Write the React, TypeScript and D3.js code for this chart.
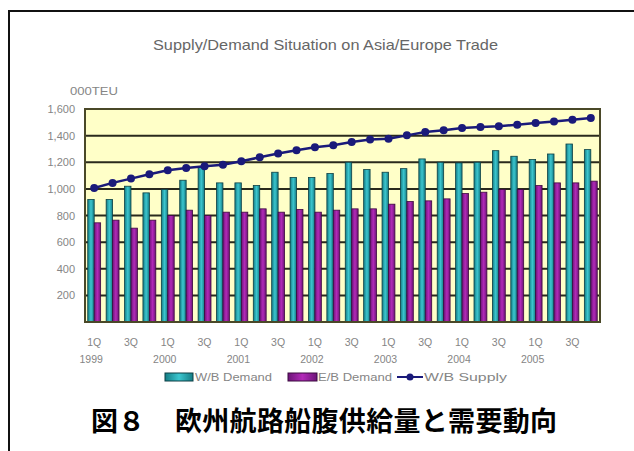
import React from "react";
import * as d3 from "d3";

const quarters = [
  "1Q99","2Q99","3Q99","4Q99","1Q00","2Q00","3Q00","4Q00",
  "1Q01","2Q01","3Q01","4Q01","1Q02","2Q02","3Q02","4Q02",
  "1Q03","2Q03","3Q03","4Q03","1Q04","2Q04","3Q04","4Q04",
  "1Q05","2Q05","3Q05","4Q05",
];
const quarterTickLabels = ["1Q","","3Q",""];
const years = ["1999","2000","2001","2002","2003","2004","2005"];
const wbDemand = [920,920,1020,970,995,1065,1165,1045,1045,1025,1125,1085,1085,1115,1200,1145,1125,1152,1225,1200,1195,1200,1287,1245,1220,1262,1337,1295];
const ebDemand = [745,765,705,765,800,840,800,825,825,850,825,845,825,840,850,850,885,905,910,925,965,975,995,995,1025,1045,1045,1058];
const wbSupply = [1007,1045,1077,1110,1140,1157,1170,1182,1207,1237,1265,1290,1312,1327,1352,1370,1377,1402,1427,1440,1457,1465,1470,1482,1495,1507,1520,1532];
const yTicks = [200,400,600,800,1000,1200,1400,1600];
const seriesNames = ["W/B Demand","E/B Demand","W/B Supply"];
const title = "Supply/Demand Situation on Asia/Europe Trade";
const unitLabel = "000TEU";
const captionHead = "図８";
const captionBody = "欧州航路船腹供給量と需要動向";

const W = 634, H = 451;
const PL = 85, PR = 600, PT = 109, PB = 322;
const TEAL_D = "#0c3f44";
const MAG_D = "#3c0a40";
const NAVY = "#1a1a7a";
const GRID = "#2a2a1c";
const LABEL = "#858585";
const FONT = "'Liberation Sans', Arial, sans-serif";

export default function App() {
  const x = d3.scaleBand<number>().domain(quarters.map((_, i) => i)).range([PL, PR]).paddingInner(0.3).paddingOuter(0.15);
  const xs = d3.scaleBand<number>().domain([0, 1]).range([0, x.bandwidth()]);
  const y = d3.scaleLinear().domain([0, 1600]).range([PB, PT]);
  const fmt = d3.format(",");
  const step = x.step();
  const cx = (i: number) => PL + step * (i + 0.5);
  const line = d3.line<number>().x((_, i) => cx(i)).y((d) => y(d));

  return (
    <svg width={W} height={H} style={{ position: "absolute", left: 0, top: 0, background: "#fff" }}>
      <defs>
        <linearGradient id="gTeal" x1="0" x2="1" y1="0" y2="0">
          <stop offset="0" stopColor="#137c84" />
          <stop offset="0.5" stopColor="#3cc6cf" />
          <stop offset="1" stopColor="#137c84" />
        </linearGradient>
        <linearGradient id="gMag" x1="0" x2="1" y1="0" y2="0">
          <stop offset="0" stopColor="#6c1478" />
          <stop offset="0.5" stopColor="#b22ab8" />
          <stop offset="1" stopColor="#6c1478" />
        </linearGradient>
      </defs>
      {/* frame */}
      <path d={`M9,${H} L9,11 L${W},11`} fill="none" stroke="#111" strokeWidth={2} />

      <text x={153} y={50} textLength={345} lengthAdjust="spacingAndGlyphs" fontFamily={FONT} fontSize={14.5} fill="#666">{title}</text>
      <text x={70} y={95} textLength={48} lengthAdjust="spacingAndGlyphs" fontFamily={FONT} fontSize={11} fill={LABEL}>{unitLabel}</text>

      {/* plot background */}
      <rect x={PL} y={PT} width={PR - PL} height={PB - PT} fill="#ffffc8" />
      {yTicks.map((t) => (
        <g key={t}>
          {t < 1600 && <line x1={PL} x2={PR} y1={y(t)} y2={y(t)} stroke={GRID} strokeWidth={2} />}
          <text x={75} y={y(t) + 4} textAnchor="end" fontFamily={FONT} fontSize={11} fill={LABEL}>{fmt(t)}</text>
        </g>
      ))}

      {/* bars */}
      {quarters.map((_, i) => (
        <g key={i}>
          <rect x={(x(i) as number) + (xs(0) as number)} y={y(wbDemand[i])} width={xs.bandwidth()} height={PB - y(wbDemand[i])} fill="url(#gTeal)" stroke={TEAL_D} strokeWidth={0.8} />
          <rect x={(x(i) as number) + (xs(1) as number)} y={y(ebDemand[i])} width={xs.bandwidth()} height={PB - y(ebDemand[i])} fill="url(#gMag)" stroke={MAG_D} strokeWidth={0.8} />
        </g>
      ))}

      {/* plot border */}
      <rect x={PL} y={PT} width={PR - PL} height={PB - PT} fill="none" stroke="#4a4828" strokeWidth={2} />

      {/* supply line */}
      <path d={line(wbSupply) || ""} fill="none" stroke={NAVY} strokeWidth={2.5} />
      {wbSupply.map((v, i) => (
        <circle key={i} cx={cx(i)} cy={y(v)} r={4} fill={NAVY} />
      ))}

      {/* x labels */}
      {quarters.map((_, i) => {
        const lab = quarterTickLabels[i % 4];
        if (!lab) return null;
        return (
          <text key={i} x={cx(i)} y={346} textAnchor="middle" fontFamily={FONT} fontSize={10.5} fill={LABEL}>{lab}</text>
        );
      })}
      {years.map((yr, k) => (
        <text key={yr} x={cx(k * 4) - 3} y={363} textAnchor="middle" fontFamily={FONT} fontSize={10.5} fill={LABEL}>{yr}</text>
      ))}

      {/* legend */}
      <rect x={165} y={373} width={28} height={8} fill="url(#gTeal)" stroke={TEAL_D} strokeWidth={1} />
      <text x={195} y={381} textLength={77} lengthAdjust="spacingAndGlyphs" fontFamily={FONT} fontSize={11} fill={LABEL}>{seriesNames[0]}</text>
      <rect x={288} y={373} width={29} height={8} fill="url(#gMag)" stroke={MAG_D} strokeWidth={1} />
      <text x={318} y={381} textLength={74} lengthAdjust="spacingAndGlyphs" fontFamily={FONT} fontSize={11} fill={LABEL}>{seriesNames[1]}</text>
      <line x1={397} x2={423} y1={377} y2={377} stroke={NAVY} strokeWidth={2} />
      <circle cx={410} cy={377} r={3.5} fill={NAVY} />
      <text x={424} y={381} textLength={83} lengthAdjust="spacingAndGlyphs" fontFamily={FONT} fontSize={11} fill={LABEL}>{seriesNames[2]}</text>

      {/* caption */}
      <text x={91} y={431} fontFamily="'Noto Sans CJK JP', sans-serif" fontWeight="bold" fontSize={27} fill="#000">{captionHead}</text>
      <text x={175} y={431} textLength={382} lengthAdjust="spacing" fontFamily="'Noto Sans CJK JP', sans-serif" fontWeight="bold" fontSize={27} fill="#000">{captionBody}</text>
    </svg>
  );
}
